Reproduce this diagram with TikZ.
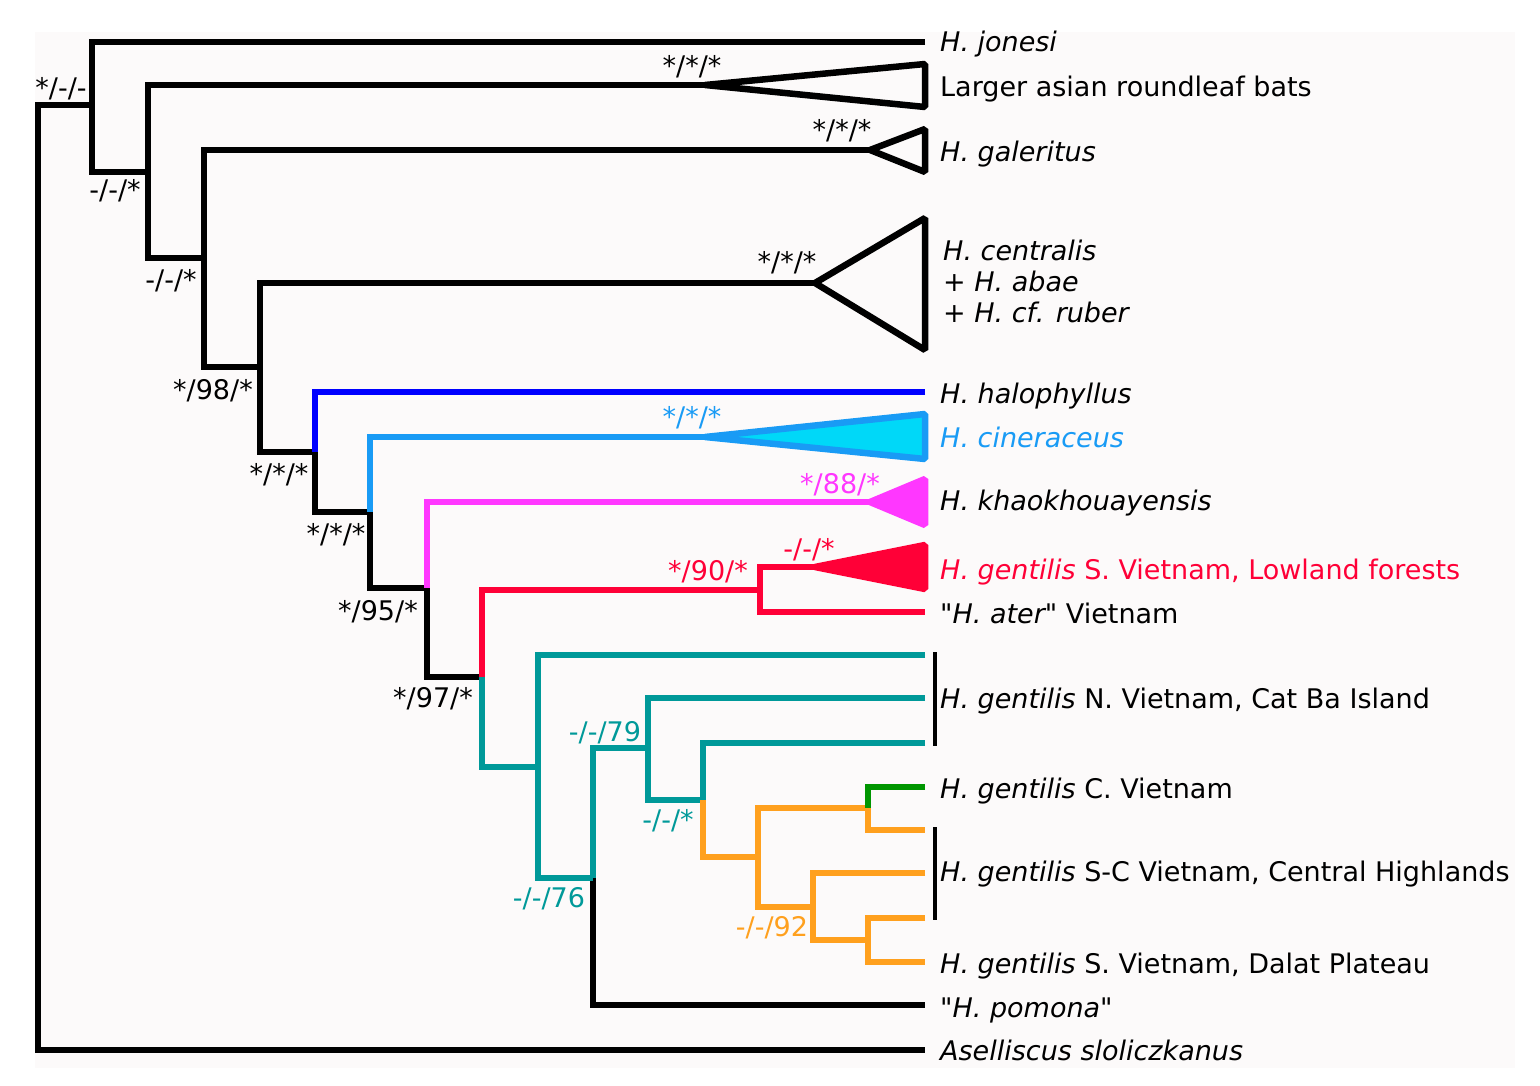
\documentclass[tikz,border=0pt]{standalone}
\usepackage{fontspec}
\setmainfont{DejaVu Sans}[Ligatures=TeXOff]
\definecolor{bgc}{RGB}{252,250,250}
\definecolor{cblue}{RGB}{0,0,255}
\definecolor{clblue}{RGB}{25,155,245}
\definecolor{ccyan}{RGB}{0,216,248}
\definecolor{cmag}{RGB}{255,55,255}
\definecolor{cred}{RGB}{255,0,55}
\definecolor{cteal}{RGB}{0,153,153}
\definecolor{corange}{RGB}{255,160,30}
\definecolor{cgreen}{RGB}{0,150,0}
\tikzset{
  br/.style={line width=6.5pt},
  lab/.style={font=\fontsize{27}{31}\selectfont, inner sep=0pt},
  leaf/.style={lab, anchor=base west},
  sup/.style={lab, anchor=base},
  grpbar/.style={line width=4pt},
}
\begin{document}
\begin{tikzpicture}[x=1pt,y=-1pt]
\useasboundingbox (0,0) rectangle (1540,1086);
\fill[bgc] (35,32) rectangle (1515,1068);

% internal nodes
\coordinate (R) at (38,578);
\coordinate (nA) at (92,105);
\coordinate (nB) at (148,172);
\coordinate (nC) at (204,258);
\coordinate (nD) at (260,367);
\coordinate (nE) at (315,452);
\coordinate (nF) at (370,512);
\coordinate (nG) at (427,588);
\coordinate (nH) at (482,677);
\coordinate (nRed) at (760,590);
\coordinate (nI) at (538,767);
\coordinate (nJ) at (593,878);
\coordinate (nK) at (648,748);
\coordinate (nL) at (703,800);
\coordinate (nM) at (758,857);
\coordinate (nN) at (868,808);
\coordinate (nO) at (813,907);
\coordinate (nP) at (868,940);

% tips and apexes
\coordinate (tJon) at (925,42);
\coordinate (aLar) at (705,85);
\coordinate (aGal) at (870,150);
\coordinate (aCen) at (815,283);
\coordinate (tHal) at (925,392);
\coordinate (aCin) at (705,437);
\coordinate (aKha) at (870,502);
\coordinate (aGen) at (815,567);
\coordinate (tAte) at (925,612);
\coordinate (tCB1) at (925,655);
\coordinate (tCB2) at (925,698);
\coordinate (tCB3) at (925,743);
\coordinate (tCV) at (925,787);
\coordinate (tSC1) at (925,830);
\coordinate (tSC2) at (925,873);
\coordinate (tSC3) at (925,918);
\coordinate (tDal) at (925,962);
\coordinate (tPom) at (925,1005);
\coordinate (tAse) at (925,1050);

% black backbone
\draw[br] (nA) -| (R) |- (tAse);
\draw[br] (tJon) -| (nA) |- (nB);
\draw[br] (aLar) -| (nB) |- (nC);
\draw[br] (aGal) -| (nC) |- (nD);
\draw[br] (aCen) -| (nD) |- (nE);
\draw[br] (nE) |- (nF);
\draw[br] (nF) |- (nG);
\draw[br] (nG) |- (nH);
\draw[br] (nJ) |- (tPom);

% coloured branches
\draw[br, cblue] (tHal) -| (nE);
\draw[br, clblue] (aCin) -| (nF);
\draw[br, cmag] (aKha) -| (nG);
\draw[br, cred] (nRed) -| (nH);
\draw[br, cred] (aGen) -| (nRed) |- (tAte);
\draw[br, cteal] (nH) |- (nI);
\draw[br, cteal] (tCB1) -| (nI) |- (nJ);
\draw[br, cteal] (nK) -| (nJ);
\draw[br, cteal] (tCB2) -| (nK) |- (nL);
\draw[br, cteal] (tCB3) -| (nL);
\draw[br, corange] (nL) |- (nM);
\draw[br, corange] (nN) -| (nM) |- (nO);
\draw[br, cgreen] (tCV) -| (nN);
\draw[br, corange] (nN) |- (tSC1);
\draw[br, corange] (tSC2) -| (nO) |- (nP);
\draw[br, corange] (tSC3) -| (nP) |- (tDal);

% collapsed clades
\draw[br, line join=bevel] (aLar) -- (925,64) -- (925,107) -- cycle;
\draw[br, line join=bevel] (aGal) -- (925,129) -- (925,172) -- cycle;
\draw[br, line join=bevel] (aCen) -- (925,218) -- (925,350) -- cycle;
\draw[br, line join=bevel, clblue, fill=ccyan] (aCin) -- (925,414) -- (925,459) -- cycle;
\draw[br, line join=bevel, cmag, fill=cmag] (aKha) -- (925,479) -- (925,525) -- cycle;
\draw[br, line join=bevel, cred, fill=cred] (aGen) -- (925,545) -- (925,589) -- cycle;

% group bars
\coordinate (bar1a) at (935,652);
\coordinate (bar1b) at (935,746);
\coordinate (bar2a) at (935,827);
\coordinate (bar2b) at (935,920);
\draw[grpbar] (bar1a) -- (bar1b);
\draw[grpbar] (bar2a) -- (bar2b);

% leaf labels
\node[leaf] (lJon) at (940,52) {\itshape H. jonesi};
\node[leaf] (lLar) at (940,97) {Larger asian roundleaf bats};
\node[leaf] (lGal) at (940,162) {\itshape H. galeritus};
\node[lab, anchor=west, align=left] (lCen) at (943,281) {\itshape H. centralis\\\itshape + H. abae\\\itshape + H. cf. ruber};
\node[leaf] (lHal) at (940,403) {\itshape H. halophyllus};
\node[leaf, text=clblue] (lCin) at (940,447) {\itshape H. cineraceus};
\node[leaf] (lKha) at (940,510) {\itshape H. khaokhouayensis};
\node[leaf, text=cred] (lGen) at (940,579) {\itshape H. gentilis\upshape{} S. Vietnam, Lowland forests};
\node[leaf] (lAte) at (940,623) {"\itshape H. ater\upshape" Vietnam};
\node[leaf] (lCB) at (940,708) {\itshape H. gentilis\upshape{} N. Vietnam, Cat Ba Island};
\node[leaf] (lCV) at (940,798) {\itshape H. gentilis\upshape{} C. Vietnam};
\node[leaf] (lSC) at (940,881) {\itshape H. gentilis\upshape{} S-C Vietnam, Central Highlands};
\node[leaf] (lDal) at (940,973) {\itshape H. gentilis\upshape{} S. Vietnam, Dalat Plateau};
\node[leaf] (lPom) at (940,1017) {"\itshape H. pomona\upshape"};
\node[leaf] (lAse) at (940,1060) {\itshape Aselliscus sloliczkanus};

% support values
\node[sup] (sA) at (61,98) {*/-/-};
\node[sup] (sB) at (115,200) {-/-/*};
\node[sup] (sC) at (171,290) {-/-/*};
\node[sup] (sD) at (213,399) {*/98/*};
\node[sup] (sE) at (279,483) {*/*/*};
\node[sup] (sF) at (336,543) {*/*/*};
\node[sup] (sG) at (378,620) {*/95/*};
\node[sup] (sH) at (433,707) {*/97/*};
\node[sup] (sLar) at (692,76) {*/*/*};
\node[sup] (sGal) at (842,140) {*/*/*};
\node[sup] (sCen) at (787,272) {*/*/*};
\node[sup, text=clblue] (sCin) at (692,426) {*/*/*};
\node[sup, text=cmag] (sKha) at (840,493) {*/88/*};
\node[sup, text=cred] (sRed) at (708,580) {*/90/*};
\node[sup, text=cred] (sGen) at (809,558) {-/-/*};
\node[sup, text=cteal] (sK) at (605,741) {-/-/79};
\node[sup, text=cteal] (sL) at (668,829) {-/-/*};
\node[sup, text=cteal] (sJ) at (549,907) {-/-/76};
\node[sup, text=corange] (sO) at (772,936) {-/-/92};
\end{tikzpicture}
\end{document}
